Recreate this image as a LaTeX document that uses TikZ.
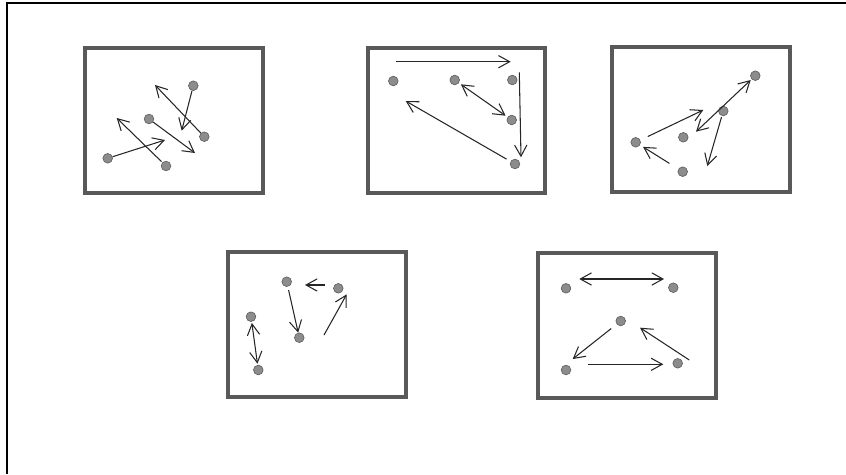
\documentclass[tikz,border=0pt]{standalone}
\usepackage{xcolor}
\usepackage{tikz}
\usetikzlibrary{arrows.meta, positioning}

\begin{document}
\begin{tikzpicture}[
    x=0.03cm, y=-0.03cm,
    dot/.style={circle, inner sep=0pt, minimum size=0.29cm, fill=black!45, draw=black!65, line width=0.5pt},
    panel/.style={draw=black!65, line width=2.6pt},
    arrow/.style={draw=black!85, line width=0.9pt, -{Straight Barb[length=9.5pt, width=10.5pt]}},
    dblarrow/.style={draw=black!85, line width=0.9pt, {Straight Barb[length=9.5pt, width=10.5pt]}-{Straight Barb[length=9.5pt, width=10.5pt]}}
]

    \useasboundingbox (0,0) rectangle (846,474);
    \draw [line width=1.8pt] (6,3) -- (846,3);
    \draw [line width=1.8pt] (7,2) -- (7,474);

    % panels
    \draw [panel] (85,48) rectangle (263,193);
    \draw [panel] (368,48) rectangle (545,193);
    \draw [panel] (612,47) rectangle (790,192);
    \draw [panel] (228,252) rectangle (406,397);
    \draw [panel] (538,253) rectangle (716,398);

    % panel 1
    \node (p1a) [dot] at (107.7,158.3) {};
    \node (p1b) [dot] at (166,166) {};
    \node (p1c) [dot] at (149,119) {};
    \node (p1d) [dot] at (193.3,85.7) {};
    \node (p1e) [dot] at (204.3,136.7) {};
    \coordinate (q1a) at (165,140);
    \coordinate (q1b) at (116.7,118);
    \coordinate (q1c) at (195,153);
    \coordinate (q1d) at (181.7,130.7);
    \coordinate (q1e) at (155,85);
    \draw [arrow] (p1a) -- (q1a);
    \draw [arrow, shorten <=1pt] (p1b) -- (q1b);
    \draw [arrow] (p1c) -- (q1c);
    \draw [arrow] (p1d) -- (q1d);
    \draw [arrow] (p1e) -- (q1e);

    % panel 2
    \node (p2a) [dot] at (393.3,81) {};
    \node (p2b) [dot] at (454.7,80) {};
    \node (p2c) [dot] at (512.3,80) {};
    \node (p2d) [dot] at (511.7,120) {};
    \node (p2e) [dot] at (515,164) {};
    \coordinate (top2s) at (396,61.7);
    \coordinate (top2e) at (510.7,61.7);
    \coordinate (down2s) at (519.3,72.3);
    \coordinate (down2e) at (521,157.3);
    \coordinate (q2e) at (405.7,101);
    \draw [arrow] (top2s) -- (top2e);
    \draw [dblarrow, shorten <=2pt, shorten >=2pt] (p2b) -- (p2d);
    \draw [arrow] (down2s) -- (down2e);
    \draw [arrow, shorten <=4pt] (p2e) -- (q2e);

    % panel 3
    \node (p3a) [dot] at (635.7,142.3) {};
    \node (p3b) [dot] at (683.3,137.3) {};
    \node (p3c) [dot] at (682.7,171.7) {};
    \node (p3d) [dot] at (723.3,111) {};
    \node (p3e) [dot] at (755.3,75.7) {};
    \coordinate (q3a) at (703.3,110);
    \coordinate (q3b) at (696,131.7);
    \coordinate (q3d) at (707.3,166);
    \draw [arrow, shorten <=7pt] (p3a) -- (q3a);
    \draw [dblarrow, shorten >=1pt] (q3b) -- (p3e);
    \draw [arrow, shorten <=1pt] (p3d) -- (q3d);
    \draw [arrow, shorten <=9pt, shorten >=3pt] (p3c) -- (p3a);

    % panel 4
    \node (p4a) [dot] at (251,316.7) {};
    \node (p4b) [dot] at (258.3,370) {};
    \node (p4c) [dot] at (286.7,281.7) {};
    \node (p4d) [dot] at (299.3,337.7) {};
    \node (p4e) [dot] at (338.3,288.3) {};
    \coordinate (left4s) at (325,285);
    \coordinate (left4e) at (305,285);
    \coordinate (up4s) at (324,335);
    \coordinate (up4e) at (346.7,294.3);
    \draw [dblarrow, shorten <=1pt, shorten >=1pt] (p4a) -- (p4b);
    \draw [arrow, shorten <=3pt] (p4c) -- (p4d);
    \draw [arrow] (left4s) -- (left4e);
    \draw [arrow] (up4s) -- (up4e);

    % panel 5
    \node (p5a) [dot] at (566,288.3) {};
    \node (p5b) [dot] at (673.3,287.7) {};
    \node (p5c) [dot] at (620.7,321) {};
    \node (p5d) [dot] at (566,370) {};
    \node (p5e) [dot] at (677.7,363.3) {};
    \coordinate (top5s) at (579.3,279);
    \coordinate (top5e) at (664,279);
    \coordinate (q5c) at (572.7,359);
    \coordinate (bot5s) at (588.3,364.3);
    \coordinate (bot5e) at (663.3,364.3);
    \coordinate (diag5s) at (689.3,360);
    \coordinate (diag5e) at (640,327.7);
    \draw [dblarrow] (top5s) -- (top5e);
    \draw [arrow, shorten <=6pt] (p5c) -- (q5c);
    \draw [arrow] (bot5s) -- (bot5e);
    \draw [arrow] (diag5s) -- (diag5e);

\end{tikzpicture}
\end{document}
